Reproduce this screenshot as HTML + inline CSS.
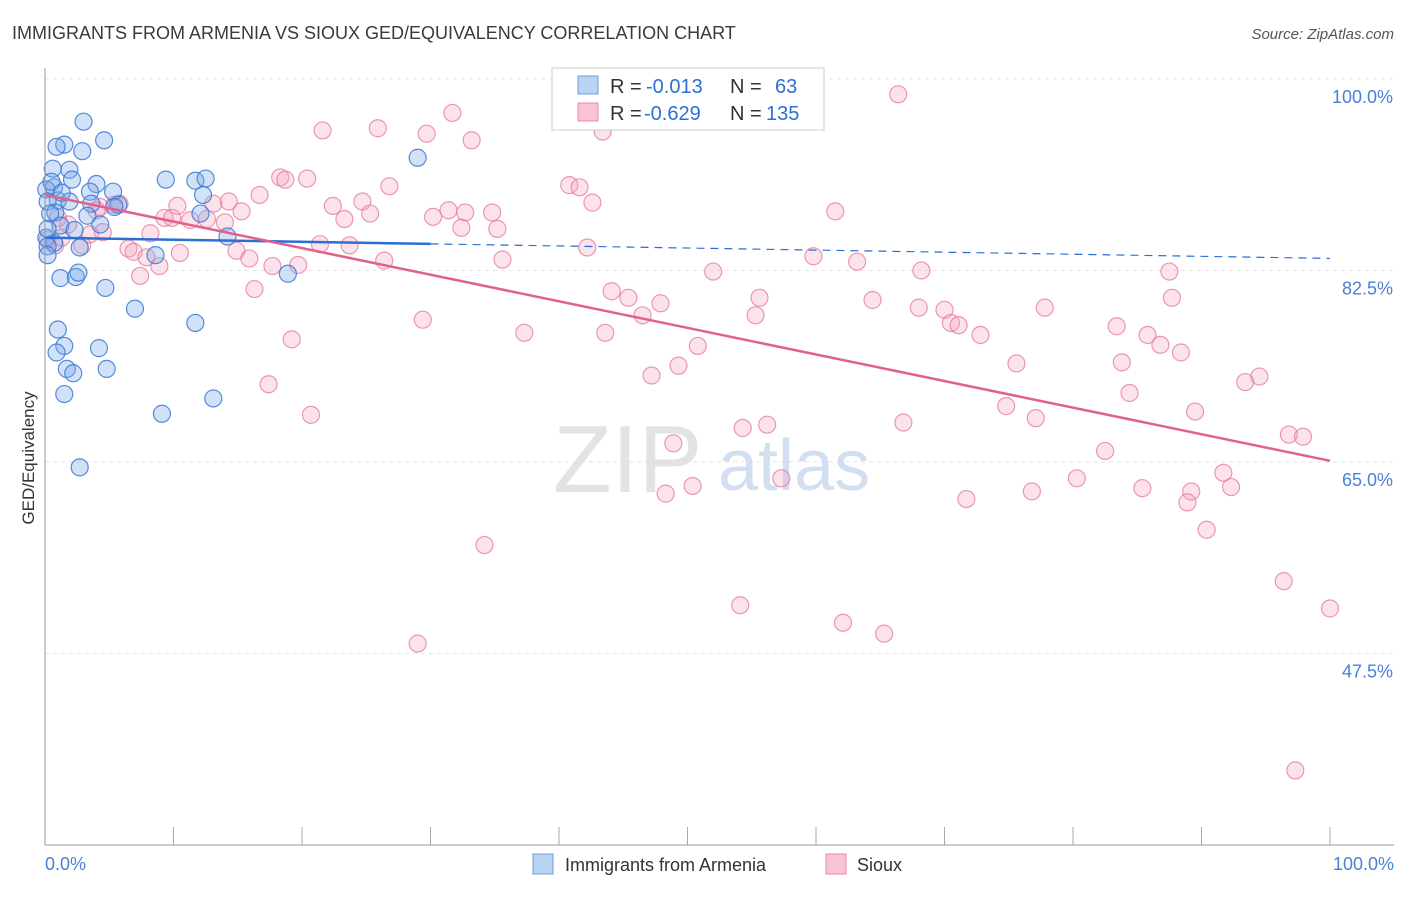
<!DOCTYPE html>
<html><head><meta charset="utf-8"><style>
body{margin:0;background:#fff;font-family:"Liberation Sans",sans-serif;}
svg text{font-family:"Liberation Sans",sans-serif;}
</style></head><body>
<svg id="chart" width="1406" height="892" viewBox="0 0 1406 892" xmlns="http://www.w3.org/2000/svg">
<text x="12" y="39" font-size="18" fill="#3a3a3a">IMMIGRANTS FROM ARMENIA VS SIOUX GED/EQUIVALENCY CORRELATION CHART</text>
<text x="1394" y="39" font-size="15" fill="#555" text-anchor="end" font-style="italic">Source: ZipAtlas.com</text>
<g id="grid"></g>
<text x="553" y="492" font-size="96" fill="#ddd" font-family="Liberation Serif" opacity="0.8">ZIP</text>
<text x="718" y="490" font-size="72" fill="#c8d8ee" opacity="0.8">atlas</text>
<g id="pts"></g>
<g id="lines"></g>
<line x1="45" y1="845" x2="1394" y2="845" stroke="#999" stroke-width="1"/>
<line x1="45" y1="68" x2="45" y2="845" stroke="#999" stroke-width="1"/>
<text transform="translate(34,458) rotate(-90)" font-size="17" fill="#333" text-anchor="middle">GED/Equivalency</text>
<text x="45" y="870" font-size="18" fill="#4a80d8">0.0%</text>
<text x="1394" y="870" font-size="18" fill="#4a80d8" text-anchor="end">100.0%</text>
<g>
<rect x="552" y="68" width="272" height="62" fill="#fff" stroke="#ccc"/>
<rect x="578" y="76" width="20" height="18" fill="#b9d3f3" stroke="#6a9de0"/>
<rect x="578" y="103" width="20" height="18" fill="#f8c4d4" stroke="#e88aa8"/>
<text x="610" y="93" font-size="20" fill="#333">R =</text>
<text x="646" y="93" font-size="20" fill="#2d6fd6">-0.013</text>
<text x="730" y="93" font-size="20" fill="#333">N =</text>
<text x="775" y="93" font-size="20" fill="#2d6fd6">63</text>
<text x="610" y="120" font-size="20" fill="#333">R =</text>
<text x="644" y="120" font-size="20" fill="#2d6fd6">-0.629</text>
<text x="730" y="120" font-size="20" fill="#333">N =</text>
<text x="766" y="120" font-size="20" fill="#2d6fd6">135</text>
</g>
<g>
<rect x="533" y="854" width="20" height="20" fill="#b9d3f3" stroke="#6a9de0"/>
<text x="565" y="871" font-size="18" fill="#333">Immigrants from Armenia</text>
<rect x="826" y="854" width="20" height="20" fill="#f8c4d4" stroke="#e88aa8"/>
<text x="857" y="871" font-size="18" fill="#333">Sioux</text>
</g>
</svg>
<script>
const yTicks=[100,82.5,65,47.5];
const yTickLabels=["100.0%","82.5%","65.0%","47.5%"];
const xTicks=[0,10,20,30,40,50,60,70,80,90,100];
const blueX=[3.0,4.6,1.5,0.9,2.9,0.6,1.9,2.1,9.4,11.7,12.5,0.7,4.0,3.5,5.3,0.1,12.3,1.0,1.9,0.2,3.6,5.7,5.4,0.8,0.4,3.3,12.1,4.3,1.2,2.3,0.1,14.2,0.7,2.7,0.2,8.6,0.2,1.2,2.4,2.6,18.9,4.7,7.0,11.7,1.0,1.5,0.9,4.2,1.7,4.8,2.2,1.5,9.1,13.1,2.7,29.0,0.5,1.3,0.2];
const blueY=[96.1,94.4,94.0,93.8,93.4,91.8,91.7,90.8,90.8,90.7,90.9,90.1,90.4,89.7,89.7,89.9,89.4,88.9,88.8,88.8,88.6,88.5,88.3,87.8,87.7,87.5,87.7,86.7,86.6,86.2,85.5,85.6,85.0,84.6,84.7,83.9,83.9,81.8,81.9,82.3,82.2,80.9,79.0,77.7,77.1,75.6,75.0,75.4,73.5,73.5,73.1,71.2,69.4,70.8,64.5,92.8,90.6,89.6,86.3];
const pinkX=[66.4,31.7,21.6,25.9,29.7,33.2,43.4,18.3,18.7,20.4,26.8,40.8,41.6,16.7,42.6,22.4,24.7,14.3,13.1,10.3,15.3,23.3,25.3,31.4,30.2,32.7,34.8,61.5,9.3,9.9,11.3,14.0,12.6,32.4,35.2,8.2,21.4,23.7,14.9,15.9,10.5,6.5,6.9,7.9,8.9,42.2,59.8,63.2,35.6,26.4,17.7,19.7,7.4,52.0,68.2,87.5,16.3,44.1,45.4,47.9,55.6,64.4,87.7,46.5,55.3,68.0,70.0,70.5,71.1,72.8,77.8,83.4,85.8,86.8,88.4,37.3,43.6,29.4,19.2,50.8,75.6,83.8,49.3,47.2,94.5,93.4,84.4,17.4,74.8,89.5,20.7,77.1,66.8,56.2,54.3,82.5,96.8,97.9,48.9,57.3,50.4,48.3,80.3,76.8,71.7,85.4,91.7,92.3,89.2,88.9,90.4,34.2,96.4,100.0,54.1,62.1,65.3,29.0,97.3,0.2,0.8,1.3,2.9,4.5,4.3,5.4,5.8,3.5,4.0,1.8,1.0];
const pinkY=[98.6,96.9,95.3,95.5,95.0,94.4,95.2,91.0,90.8,90.9,90.2,90.3,90.1,89.4,88.7,88.4,88.8,88.8,88.6,88.4,87.9,87.2,87.7,88.0,87.4,87.8,87.8,87.9,87.3,87.3,87.1,86.9,87.2,86.4,86.3,85.9,84.9,84.8,84.3,83.6,84.1,84.5,84.2,83.7,82.9,84.6,83.8,83.3,83.5,83.4,82.9,83.0,82.0,82.4,82.5,82.4,80.8,80.6,80.0,79.5,80.0,79.8,80.0,78.4,78.4,79.1,78.9,77.7,77.5,76.6,79.1,77.4,76.6,75.7,75.0,76.8,76.8,78.0,76.2,75.6,74.0,74.1,73.8,72.9,72.8,72.3,71.3,72.1,70.1,69.6,69.3,69.0,68.6,68.4,68.1,66.0,67.5,67.3,66.7,63.5,62.8,62.1,63.5,62.3,61.6,62.6,64.0,62.7,62.3,61.3,58.8,57.4,54.1,51.6,51.9,50.3,49.3,48.4,36.8,85.3,84.8,85.5,84.8,86.0,88.3,88.5,88.6,85.8,88.0,86.7,87.3];
const blueTrend=[85.5,83.6];
const pinkTrend=[89.4,65.1];
const NS="http://www.w3.org/2000/svg";
function sx(v){return 45+v*12.85;}
function sy(v){return 79+(100-v)*10.94;}
const grid=document.getElementById('grid');
yTicks.forEach((t,i)=>{
 const l=document.createElementNS(NS,'line');
 
 
 l.setAttribute('x1',45);l.setAttribute('x2',1394);l.setAttribute('y1',sy(t));l.setAttribute('y2',sy(t));
 l.setAttribute('stroke','#e4e4e4');l.setAttribute('stroke-dasharray','4,4');
 grid.appendChild(l);
 const tx=document.createElementNS(NS,'text');
 
 
 tx.setAttribute('x',1393);tx.setAttribute('y',sy(t)+24);tx.setAttribute('text-anchor','end');
 tx.setAttribute('font-size','18');tx.setAttribute('fill','#4a80d8');tx.textContent=yTickLabels[i];
 grid.appendChild(tx);
});
xTicks.forEach(t=>{
 const l=document.createElementNS(NS,'line');
 
 
 l.setAttribute('x1',sx(t));l.setAttribute('x2',sx(t));l.setAttribute('y1',827);l.setAttribute('y2',845);
 l.setAttribute('stroke','#aaa');
 grid.appendChild(l);
});
const pts=document.getElementById('pts');
function dots(xs,ys,fill,stroke,name){
 xs.forEach((x,i)=>{
  const c=document.createElementNS(NS,'circle');
  
  
  c.setAttribute('cx',sx(x));c.setAttribute('cy',sy(ys[i]));c.setAttribute('r',8.5);
  c.setAttribute('fill',fill);c.setAttribute('stroke',stroke);c.setAttribute('stroke-width','1.2');
  pts.appendChild(c);
 });
}
dots(pinkX,pinkY,'rgba(244,160,188,0.3)','rgba(228,120,156,0.75)','sioux-point');
dots(blueX,blueY,'rgba(120,170,235,0.35)','rgba(60,120,210,0.85)','armenia-point');
const lines=document.getElementById('lines');
function line(x1,y1,x2,y2,col,w,dash,name){
 const l=document.createElementNS(NS,'line');
 
 
 l.setAttribute('x1',sx(x1));l.setAttribute('y1',sy(y1));l.setAttribute('x2',sx(x2));l.setAttribute('y2',sy(y2));
 l.setAttribute('stroke',col);l.setAttribute('stroke-width',w);
 if(dash)l.setAttribute('stroke-dasharray',dash);
 lines.appendChild(l);
}
const bAt=x=>blueTrend[0]+(blueTrend[1]-blueTrend[0])*x/100;
line(0,bAt(0),30,bAt(30),'#2a6fd6',2.5,null,'armenia-trend-line');
line(30,bAt(30),100,bAt(100),'#2a6fd6',1.2,'8,6','armenia-trend-extension');
line(0,pinkTrend[0],100,pinkTrend[1],'#e0608e',2.5,null,'sioux-trend-line');
</script>
</body></html>
